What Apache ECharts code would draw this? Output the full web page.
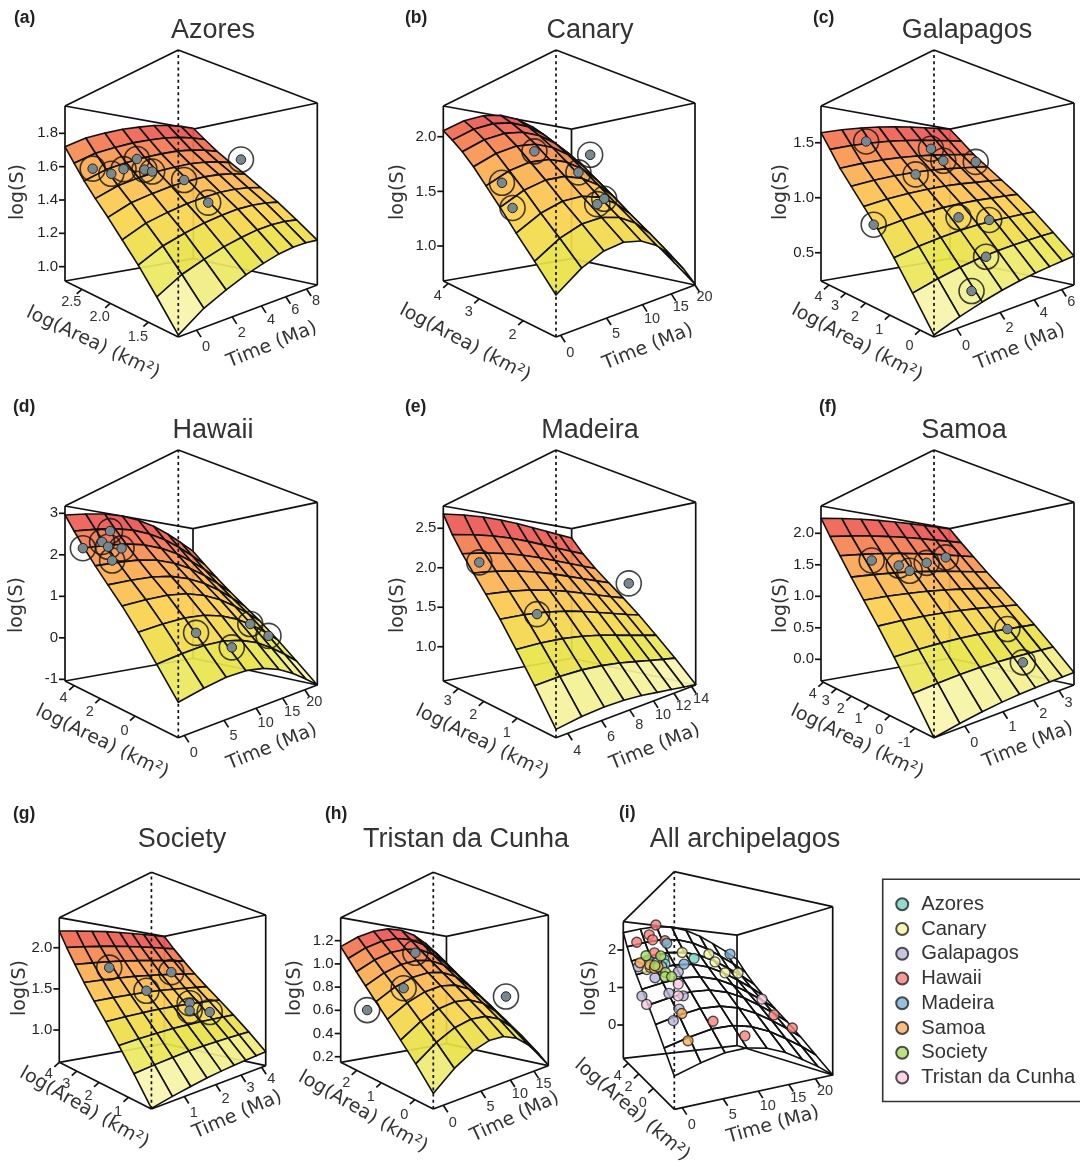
<!DOCTYPE html>
<html><head><meta charset="utf-8"><style>html,body{margin:0;padding:0;background:#fff}#c{width:1080px;height:1162px}</style>
<script src="https://cdn.jsdelivr.net/npm/echarts@6/dist/echarts.min.js"></script></head><body><div id="c"></div><script>
// ---------- values ----------
const archipelagos=['Azores','Canary','Galapagos','Hawaii','Madeira','Samoa','Society','Tristan da Cunha'];
// fitted surface: log(S) along the Time edge (lowest area) and along the Area edge (earliest time)
const azoresTimeEdge=[.921,.989,1.036,1.078,1.111,1.140,1.159,1.170,1.173];
const azoresAreaEdge=[.921,1.03,1.135,1.229,1.324,1.413,1.507,1.612,1.719];
const canaryTimeEdge=[.914,1.035,1.115,1.151,1.141,1.088,.992,.853,.688];
const canaryAreaEdge=[.914,1.072,1.224,1.384,1.537,1.689,1.825,1.945,2.055];
const galapagosTimeEdge=[.254,.307,.351,.388,.418,.442,.461,.48,.496];
const galapagosAreaEdge=[.254,.442,.625,.792,.943,1.094,1.245,1.42,1.591];
const hawaiiTimeEdge=[-.521,-.416,-.332,-.302,-.34,-.441,-.606,-.812,-1.04];
const hawaiiAreaEdge=[-.521,-.049,.414,.845,1.237,1.637,2.059,2.501,2.961];
const madeiraTimeEdge=[.63,.661,.677,.677,.664,.641,.617,.593,.573];
const madeiraAreaEdge=[.63,.909,1.175,1.43,1.667,1.896,2.128,2.383,2.68];
const samoaTimeEdge=[-.344,-.297,-.258,-.227,-.205,-.188,-.177,-.166,-.155];
const samoaAreaEdge=[-.344,.003,.336,.656,.961,1.267,1.586,1.905,2.239];
const societyTimeEdge=[.613,.645,.673,.698,.717,.733,.747,.759,.771];
const societyAreaEdge=[.613,.819,1.012,1.197,1.378,1.566,1.768,1.978,2.203];
const tristanTimeEdge=[.234,.336,.411,.455,.464,.434,.366,.274,.157];
const tristanAreaEdge=[.234,.358,.472,.586,.695,.806,.918,1.034,1.149];
const allTimeEdge=[-.378,-.232,-.116,-.079,-.130,-.258,-.444,-.648,-.888];
const allAreaEdge=[-.378,-.032,.314,.642,.952,1.28,1.626,2.026,2.464];
// islands: [Time, log(Area), log(S)]
const azoresIslands=[[-.18,2.53,1.58],[.48,2.39,1.55],[1.23,2.39,1.58],[2.34,2.45,1.65],[2.29,2.31,1.58],[2.69,2.28,1.57],[3.99,2.07,1.52],[4.15,1.78,1.39],[9.17,2.09,1.68]];
const canaryIslands=[[6.41,3.04,1.85],[.79,2.71,1.56],[.48,2.40,1.38],[10.5,2.66,1.67],[14.89,2.98,1.87],[10.09,2.09,1.44],[8.55,2.03,1.40]];
const galapagosIslands=[[.92,4.01,1.53],[4.28,3.59,1.51],[4.28,2.99,1.37],[6.61,2.97,1.39],[2.10,2.60,1.21],[2.46,1.14,.85],[3.84,.89,.82],[-.86,1.64,.82],[2.38,.20,.58],[1.00,-.17,.41]];
const hawaiiIslands=[[-.67,3.27,2.06],[4.34,3.91,2.60],[2.19,3.41,2.26],[2.43,3.08,2.13],[4.10,2.94,2.11],[1.72,2.44,1.78],[5.54,-.59,.34],[8.64,-1.22,.06],[16.99,-.12,.36],[20.45,-.25,.04]];
const madeiraIslands=[[4.11,2.61,2.03],[5.61,1.48,1.46],[14.5,1.76,1.82]];
const samoaIslands=[[.04,2.51,1.54],[.69,2.30,1.48],[.91,2.10,1.40],[1.60,2.36,1.56],[2.45,2.62,1.70],[2.58,-.15,.50],[2.21,-1.09,.09]];
const societyIslands=[[1.08,2.95,1.75],[3.17,2.70,1.73],[1.75,2.25,1.48],[2.86,1.76,1.33],[2.66,1.60,1.25],[3.37,1.49,1.22]];
const tristanIslands=[[7.45,1.92,1.11],[2.13,1.10,.79],[-1.13,1.54,.63],[16.23,.39,.72]];
// the same islands
const allAzores=[[9.52,2.93,1.76],[4.02,2.90,1.69],[1.57,3.04,1.66],[2.30,2.43,1.45],[3.89,2.65,1.56]];
const allCanary=[[7.93,3.37,1.92],[.83,2.57,1.41],[13.93,3.73,1.96],[14.42,3.29,1.72],[14.91,2.50,1.40],[19.81,3.40,1.44],[1.45,2.65,1.47]];
const allGalapagos=[[-.88,1.53,.81],[2.30,.88,.87],[5.12,1.89,1.36],[1.45,1.93,1.21],[3.89,.49,.82],[1.32,-.34,.37],[2.55,-.02,.57],[-.15,2.93,1.48],[3.16,2.50,1.49],[2.67,2.79,1.58]];
const allHawaii=[[5.12,5.13,2.77],[3.40,4.70,2.43],[3.65,4.34,2.27],[.83,4.34,2.17],[5.73,4.16,2.26],[3.04,3.47,1.87],[5.97,-.88,.35],[9.16,-1.60,.09],[19.68,.31,.34],[23.48,.23,-.01]];
const allMadeira=[[5.85,3.98,2.18],[6.83,2.39,1.57],[21.76,5.13,2.11]];
const allSamoa=[[.22,3.04,1.58],[1.57,2.79,1.53],[1.94,2.47,1.44],[2.67,-.20,.49],[1.94,-1.24,.06],[2.55,2.50,1.48]];
const allSociety=[[1.57,3.44,1.78],[3.77,3.15,1.78],[2.18,2.61,1.51],[3.28,2.07,1.34],[2.91,1.85,1.24],[3.89,1.78,1.24]];
const allTristan=[[4.26,1.28,1.07],[3.28,.59,.82],[-.88,.85,.65],[21.40,1.82,.70]];
// axis tick labels
const azoresTicks={time:['0','2','4','6','8'],area:['1.5','2.0','2.5'],s:['1.0','1.2','1.4','1.6','1.8']};
const canaryTicks={time:['0','5','10','15','20'],area:['2','3','4'],s:['1.0','1.5','2.0']};
const galapagosTicks={time:['0','2','4','6'],area:['0','1','2','3','4'],s:['0.5','1.0','1.5']};
const hawaiiTicks={time:['0','5','10','15','20'],area:['0','2','4'],s:['-1','0','1','2','3']};
const madeiraTicks={time:['4','6','8','10','12','14'],area:['1','2','3'],s:['1.0','1.5','2.0','2.5']};
const samoaTicks={time:['0','1','2','3'],area:['-1','0','1','2','3','4'],s:['0.0','0.5','1.0','1.5','2.0']};
const societyTicks={time:['1','2','3','4'],area:['1','2','3','4'],s:['1.0','1.5','2.0']};
const tristanTicks={time:['0','5','10','15'],area:['0','1','2'],s:['0.2','0.4','0.6','0.8','1.0','1.2']};
const allTicks={time:['0','5','10','15','20'],area:['0','2','4'],s:['0','1','2']};
// ---------- layout and axis extents ----------
const panels=[
{title:'Azores',tag:'(a)',tagAt:[14,18],titleAt:[213,29],near:[178.3,337,50],right:[317.3,285,103],left:[65,281,106],t:[-.88,9.17],a:[1.2,2.87],s:[.914,1.964],te:azoresTimeEdge,ae:azoresAreaEdge,ticks:azoresTicks,pts:azoresIslands,aT:[93,343,25.5],tT:[272,345,22],sT:[18,192]},
{title:'Canary',tag:'(b)',tagAt:[405,18],titleAt:[590,29],near:[556,337,50],right:[695,285,103],left:[443.3,281,106],t:[-.44,20],a:[1.45,4.19],s:[.68,2.281],te:canaryTimeEdge,ae:canaryAreaEdge,ticks:canaryTicks,pts:canaryIslands,aT:[465,343,28],tT:[648,347,22],sT:[398,192]},
{title:'Galapagos',tag:'(c)',tagAt:[813,18],titleAt:[967,29],near:[934,337,50],right:[1074,285,103],left:[821,281,106],t:[-.86,7.04],a:[-.39,4.55],s:[.243,1.834],te:galapagosTimeEdge,ae:galapagosAreaEdge,ticks:galapagosTicks,pts:galapagosIslands,aT:[857,343,28],tT:[1020,347,22],sT:[781,192]},
{title:'Hawaii',tag:'(d)',tagAt:[13,407],titleAt:[213,429],near:[178.3,737.7,450],right:[317.3,685,502.3],left:[65,681,506],t:[-.67,23.2],a:[-1.82,4.84],s:[-1.04,3.176],te:hawaiiTimeEdge,ae:hawaiiAreaEdge,ticks:hawaiiTicks,pts:hawaiiIslands,aT:[102,742,26],tT:[272,747,22],sT:[17,605]},
{title:'Madeira',tag:'(e)',tagAt:[405,407],titleAt:[590,429],near:[556,737.7,450],right:[695.7,685,502.3],left:[443.3,681,506],t:[3.39,14.5],a:[.13,3.72],s:[.566,2.782],te:madeiraTimeEdge,ae:madeiraAreaEdge,ticks:madeiraTicks,pts:madeiraIslands,aT:[482,742,26],tT:[655,747,22],sT:[398,605]},
{title:'Samoa',tag:'(f)',tagAt:[819,407],titleAt:[964,429],near:[934,737.7,450],right:[1074,685,502.3],left:[821,681,506],t:[-.66,3.69],a:[-1.64,4.2],s:[-.344,2.433],te:samoaTimeEdge,ae:samoaAreaEdge,ticks:samoaTicks,pts:samoaIslands,aT:[857,742,26],tT:[1028,745,22],sT:[781,605]},
{title:'Society',tag:'(g)',tagAt:[13,814],titleAt:[182,838],near:[150,1109,872.3],right:[265.7,1065.7,915],left:[56.7,1062.3,917.7],t:[.17,4.22],a:[.39,4],s:[.608,2.365],te:societyTimeEdge,ae:societyAreaEdge,ticks:societyTicks,pts:societyIslands,aT:[82,1108,29.7],tT:[237,1115,23.6],sT:[17,988]},
{title:'Tristan da Cunha',tag:'(h)',tagAt:[325,814],titleAt:[466,838],near:[433.3,1109,872.3],right:[548.3,1065.7,915],left:[340.7,1062.3,917.7],t:[-1.13,18.6],a:[-.43,2.83],s:[.152,1.398],te:tristanTimeEdge,ae:tristanAreaEdge,ticks:tristanTicks,pts:tristanIslands,aT:[363,1112,29.7],tT:[515,1117,25],sT:[295,988]},
{title:'All archipelagos',tag:'(i)',tagAt:[619,813],titleAt:[745,838],near:[674.3,1109.3,871.7],right:[832.7,1075,906.7],left:[623.3,1058.3,921.7],t:[-.88,23.6],a:[-2.07,5.13],s:[-.888,2.755],te:allTimeEdge,ae:allAreaEdge,ticks:allTicks,combined:[allAzores,allCanary,allGalapagos,allHawaii,allMadeira,allSamoa,allSociety,allTristan],aT:[632,1110,40.8],tT:[773,1125,15.7],sT:[590,988]}
];
const legendColors=['#79cfc0','#f5f3a0','#b9b5d9','#f8807a','#7db0d4','#fbae5f','#aadb62','#f9c9e0'];
const ramp=[[0,[253,251,220]],[.08,[247,244,170]],[.22,[232,228,72]],[.42,[251,208,78]],[.65,[250,165,80]],[.85,[240,105,80]],[1,[232,70,85]]];
const LINE='#111',TXT='#333';
// ---------- perspective box: vertical edges stay vertical, depth comes from their lengths ----------
function place(p,u,v,w){
  const hn=p.near[1]-p.near[2],r1=hn/(p.right[1]-p.right[2]),r2=hn/(p.left[1]-p.left[2]);
  const a=1-u-v,b=r1*u,c=r2*v,d=a+b+c;
  const q=[0,1,2].map(k=>(p.near[k]*a+p.right[k]*b+p.left[k]*c)/d);
  return [q[0],q[1]+w*(q[2]-q[1])];
}
const nt=(x,r)=>(x-r[0])/(r[1]-r[0]);
const toScreen=(p,t,a,s)=>place(p,nt(t,p.t),nt(a,p.a),nt(s,p.s));
function rampColor(f,alpha){for(let i=1;i<ramp.length;i++){if(f<=ramp[i][0]){const A=ramp[i-1],B=ramp[i],k=(f-A[0])/(B[0]-A[0]);
  return 'rgba('+A[1].map((c,n)=>Math.round(c+(B[1][n]-c)*k)).join(',')+','+alpha+')';}}return 'rgb(232,70,85)';}

const grids=[],xAxes=[],yAxes=[],series=[],titles=[];
panels.forEach((p,idx)=>{
  const xs=[p.near[0],p.right[0],p.left[0]],ys=[p.near[1],p.near[2]];
  const x0=Math.min(...xs)-60,x1=Math.max(...xs)+1,y0=Math.min(...ys)-1,y1=Math.max(...ys)+1;
  grids.push({left:x0,top:y0,width:x1-x0,height:y1-y0,show:false});
  xAxes.push({gridIndex:idx,type:'value',min:x0,max:x1,show:false});
  yAxes.push({gridIndex:idx,type:'value',min:y0,max:y1,inverse:true,show:false});
  titles.push({text:p.title,left:p.titleAt[0],top:p.titleAt[1]+2,padding:0,textAlign:'center',textVerticalAlign:'middle',textStyle:{fontFamily:'Liberation Sans',fontSize:27,fontWeight:'normal',color:TXT}});
  titles.push({text:p.tag,left:p.tagAt[0],top:p.tagAt[1],padding:0,textAlign:'left',textVerticalAlign:'middle',textStyle:{fontFamily:'Liberation Sans',fontSize:17.5,fontWeight:'bold',color:'#222'}});
  const base={coordinateSystem:'cartesian2d',xAxisIndex:idx,yAxisIndex:idx,silent:true,animation:false,clip:false,progressive:0,legendHoverLink:false};
  const line=(api,A,B,extra)=>({type:'line',shape:{x1:api.coord(A)[0],y1:api.coord(A)[1],x2:api.coord(B)[0],y2:api.coord(B)[1]},style:Object.assign({stroke:LINE,lineWidth:1.7},extra||{})});
  const N=place(p,0,0,0),NT=place(p,0,0,1),R=place(p,1,0,0),RT=place(p,1,0,1),L=place(p,0,1,0),LT=place(p,0,1,1),F=place(p,1,1,0),FT=place(p,1,1,1);
  // back of the box
  series.push(Object.assign({type:'custom',data:[[0,0]],renderItem:(_,api)=>({type:'group',children:[line(api,L,F),line(api,R,F),line(api,F,FT),line(api,LT,FT),line(api,RT,FT)]})},base));
  // fitted surface, far cells first
  const nCells=p.te.length-1,cells=[];
  for(let sum=2*nCells-2;sum>=0;sum--)for(let i=0;i<nCells;i++){const j=sum-i;if(j>=0&&j<nCells)cells.push([i,j]);}
  const height=(i,j)=>p.te[i]+p.ae[j]-p.te[0];
  const hs=[];p.te.forEach((_,i)=>p.ae.forEach((__,j)=>hs.push(height(i,j))));
  const hMin=Math.min(...hs),hMax=Math.max(...hs);
  const vert=(i,j)=>place(p,i/nCells,j/nCells,nt(height(i,j),p.s));
  series.push(Object.assign({type:'custom',data:cells,renderItem:(pr,api)=>{
    const i=api.value(0),j=api.value(1);
    const pts=[[i,j],[i+1,j],[i+1,j+1],[i,j+1]].map(c=>api.coord(vert(c[0],c[1])));
    const m=(height(i,j)+height(i+1,j)+height(i+1,j+1)+height(i,j+1))/4;
    return {type:'polygon',shape:{points:pts},style:{fill:p.combined?'rgba(255,255,255,0)':rampColor((m-hMin)/(hMax-hMin),.92),stroke:LINE,lineWidth:1.6,lineJoin:'round'}};
  }},base));
  // front of the box, ticks, labels
  const text=(api,s,at,o)=>{const c=api.coord(at);return {type:'text',x:c[0]+(o.dx||0),y:c[1]+(o.dy||0),rotation:(o.rot||0)*Math.PI/180,style:{text:s,align:o.align||'center',verticalAlign:'middle',fontFamily:o.font||'Liberation Sans',fontSize:o.size||14.5,fill:o.fill||TXT}};};
  series.push(Object.assign({type:'custom',data:[[0,0]],renderItem:(_,api)=>{
    const kids=[line(api,LT,NT),line(api,NT,RT),line(api,L,LT),line(api,R,RT),line(api,L,N),line(api,N,R),line(api,N,NT,{lineDash:[3,3.2],lineWidth:1.7})];
    p.ticks.time.forEach(s=>{const b=place(p,nt(+s,p.t),0,0),w=(b[0]-N[0])/(R[0]-N[0]);kids.push(line(api,b,[b[0]+4.5,b[1]+7]));kids.push(text(api,s,b,{dx:9.5,dy:18-6*w}));});
    p.ticks.area.forEach(s=>{const b=place(p,0,nt(+s,p.a),0),w=(b[0]-N[0])/(L[0]-N[0]);kids.push(line(api,b,[b[0]-5,b[1]+4.5]));kids.push(text(api,s,b,{dx:-10.5,dy:16-4*w}));});
    p.ticks.s.forEach(s=>{const b=place(p,0,1,nt(+s,p.s));kids.push(line(api,b,[b[0]-6,b[1]]));kids.push(text(api,s,b,{dx:-7,align:'right',size:15,fill:'#222'}));});
    const titleAt=(T,s,size,rot)=>{const o=api.coord([T[0],T[1]]);return {type:'text',x:o[0],y:o[1],rotation:rot*Math.PI/180,style:{text:s,align:'center',verticalAlign:'middle',fontFamily:'DejaVu Sans',fontSize:size,fill:TXT}};};
    kids.push(titleAt(p.aT,'log(Area) (km²)',19,-p.aT[2]));
    kids.push(titleAt(p.tT,'Time (Ma)',19,p.tT[2]));
    kids.push(titleAt(p.sT,'log(S)',19,90));
    return {type:'group',children:kids};
  }},base));
  // islands
  const scat={type:'scatter',xAxisIndex:idx,yAxisIndex:idx,silent:true,animation:false,clip:false,symbol:'circle'};
  if(p.pts){
    const xy=p.pts.map(q=>toScreen(p,q[0],q[1],q[2]));
    series.push(Object.assign({},scat,{data:xy,symbolSize:25,itemStyle:{color:'rgba(0,0,0,0)',borderColor:LINE,borderWidth:1.6}}));
    series.push(Object.assign({},scat,{data:xy,symbolSize:9.5,itemStyle:{color:'#78888f',borderColor:'#222',borderWidth:1,opacity:1}}));
  }else{
    p.combined.forEach((g,n)=>series.push(Object.assign({},scat,{name:archipelagos[n],data:g.map(q=>toScreen(p,q[0],q[1],q[2])),symbolSize:10,itemStyle:{color:legendColors[n],borderColor:'#222',borderWidth:1.3}})));
  }
});
const chart=echarts.init(document.getElementById('c'),null,{renderer:'canvas'});
chart.setOption({animation:false,backgroundColor:'#fff',title:titles,grid:grids,xAxis:xAxes,yAxis:yAxes,series,
 tooltip:{show:false},
 legend:{data:archipelagos,orient:'vertical',left:882.7,top:879.3,selectedMode:false,icon:'circle',itemWidth:12,itemHeight:12,itemGap:4.75,padding:[15,40,14,12.5],borderColor:'#333',borderWidth:1.6,backgroundColor:'#fff',
  textStyle:{fontFamily:'Liberation Sans',fontSize:20.2,lineHeight:20,color:TXT,padding:[0,0,0,8]}}});
</script></body></html>
